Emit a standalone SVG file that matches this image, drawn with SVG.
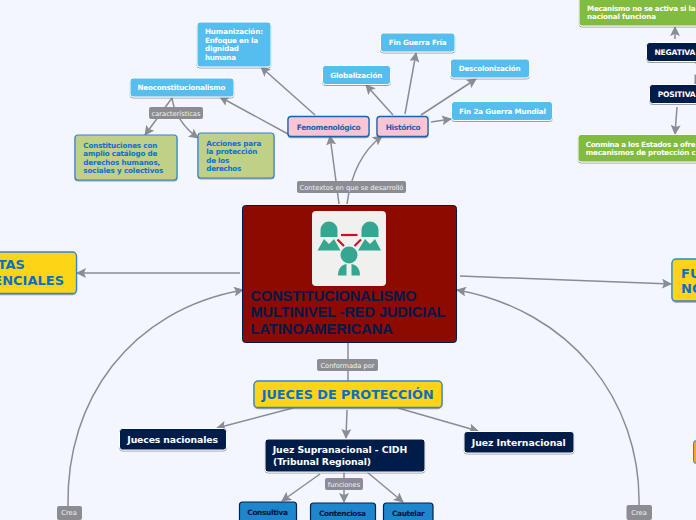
<svg xmlns="http://www.w3.org/2000/svg" width="696" height="520" viewBox="0 0 696 520">
<defs>
<filter id="sh" x="-10%" y="-10%" width="120%" height="130%"><feDropShadow dx="0" dy="1" stdDeviation="0.6" flood-color="#666" flood-opacity="0.6"/></filter>
<marker id="ah" viewBox="0 0 10 10" refX="9" refY="5" markerWidth="10" markerHeight="10" markerUnits="userSpaceOnUse" orient="auto"><path d="M0 0L10 5L0 10L2 5Z" fill="#8a8c94"/></marker>
</defs>
<style>
text{font-family:"DejaVu Sans",Verdana,sans-serif;font-weight:700}
.c path{fill:none;stroke:#8a8c94;stroke-width:1.5;marker-end:url(#ah)}
.c path.n{marker-end:none}
.blue rect{fill:#57bdef;stroke:#fff;stroke-width:1;filter:url(#sh)}
.blue text{fill:#fff;font-size:7.2px}
.pink rect{fill:#fcc5d3;stroke:#1565ae;stroke-width:1.3;filter:url(#sh)}
.pink text{fill:#1a5db0;font-size:7.4px}
.olive rect{fill:#c0d086;stroke:#2f86cf;stroke-width:1.2;filter:url(#sh)}
.olive text{fill:#0a6fd6;font-size:7.2px}
.navy rect{fill:#001a4a;stroke:#fff;stroke-width:1;filter:url(#sh)}
.navy text{fill:#fff;font-size:9.3px}
.navy text.s{font-size:7.6px}
.green rect{fill:#81bb41;stroke:#fff;stroke-width:1;filter:url(#sh)}
.green text{fill:#fff;font-size:7.2px}
.yellow rect{fill:#fdd519;stroke:#2f86cf;stroke-width:1.3;filter:url(#sh)}
.yellow text{fill:#0a6fc4;font-size:13px}
.func rect{fill:#1e86cc;stroke:#00204f;stroke-width:1.2}
.func text{fill:#00143a;font-size:7.4px}
.lab rect{fill:#8c8d92}
.lab text{fill:#f2f2f2;font-size:6.7px;font-weight:400;text-anchor:middle}
.title{fill:#001a4a;font-family:"Liberation Sans",Arial,sans-serif;font-size:14.6px}
</style>
<rect width="696" height="520" fill="#f3f6ff"/>
<g class="c" id="connectors">
<path d="M315 115L261 67"/>
<path d="M288 134L220 97"/>
<path d="M172 98L145 135"/>
<path d="M172 98C174 113 184 128 198 138"/>
<path d="M339 204L330 136"/>
<path d="M347 204C351 174 362 151 382 136"/>
<path d="M393 115L366 85"/>
<path d="M405 114L416 53"/>
<path d="M421 115L476 79"/>
<path d="M431 122L451 119"/>
<path d="M240 273L77 273"/>
<path d="M460 276L671 284"/>
<path class="n" d="M348 343L348 381"/>
<path d="M293 408L217 428"/>
<path d="M347 410L346 438"/>
<path d="M398 408L478 431"/>
<path d="M320 474L282 501"/>
<path d="M344 471L344 502"/>
<path d="M367 472L403 502"/>
<path d="M68 506C66 400 130 310 243 290"/>
<path d="M639 505C641 400 570 310 457 290"/>
<path d="M675 39L675 27"/>
<path d="M677 107L675 134"/>
<path class="n" d="M696 62L697 66"/>
<path d="M699 76L695 84"/>
</g>
<g id="n-human" class="blue"><rect x="197" y="22" width="74" height="45" rx="3"/><text x="205" y="34" textLength="58">Humanización:</text><text x="205" y="43" textLength="53">Enfoque en la</text><text x="205" y="51" textLength="34">dignidad</text><text x="205" y="60" textLength="31">humana</text></g>
<g id="n-neo" class="blue"><rect x="130" y="78" width="104" height="19" rx="3"/><text x="137.500" y="90" textLength="88">Neoconstitucionalismo</text></g>
<g id="n-constituciones" class="olive"><rect x="75" y="135" width="102" height="45" rx="3"/><text x="83.300" y="148" textLength="74">Constituciones con</text><text x="83.300" y="156" textLength="74">amplio catálogo de</text><text x="83.300" y="165" textLength="77">derechos humanos,</text><text x="83.300" y="173" textLength="80">sociales y colectivos</text></g>
<g id="n-acciones" class="olive"><rect x="198" y="133" width="76" height="45" rx="3"/><text x="206.300" y="146" textLength="55">Acciones para</text><text x="206.300" y="154" textLength="51">la protección</text><text x="206.300" y="163" textLength="23">de los</text><text x="206.300" y="171" textLength="35">derechos</text></g>
<g id="l-car" class="lab"><rect x="149" y="107" width="54" height="12" rx="2"/><text x="176" y="116">características</text></g>
<g id="n-feno" class="pink"><rect x="288" y="116.500" width="81" height="20" rx="3"/><text x="296.700" y="129.500" textLength="64">Fenomenológico</text></g>
<g id="n-hist" class="pink"><rect x="377" y="116.500" width="51" height="20" rx="3"/><text x="385.700" y="129.500" textLength="35">Histórico</text></g>
<g id="n-guerra" class="blue"><rect x="380.500" y="33" width="74.500" height="19" rx="3"/><text x="388.700" y="45" textLength="58">Fin Guerra Fría</text></g>
<g id="n-glob" class="blue"><rect x="322.500" y="65.500" width="68" height="19" rx="3"/><text x="330.300" y="78" textLength="52">Globalización</text></g>
<g id="n-desc" class="blue"><rect x="450.500" y="59" width="79" height="19" rx="3"/><text x="458.700" y="71" textLength="62">Descolonización</text></g>
<g id="n-fin2" class="blue"><rect x="451.500" y="101.500" width="101" height="19" rx="3"/><text x="459" y="114" textLength="87">Fin 2a Guerra Mundial</text></g>
<g id="l-ctx" class="lab"><rect x="297" y="181" width="109" height="12" rx="2"/><text x="351.500" y="190">Contextos en que se desarrolló</text></g>
<g id="n-center">
<rect x="242.500" y="205.500" width="214" height="137" rx="3" fill="#8c0a00" stroke="#001a4a" stroke-width="1"/>
<rect x="312" y="211" width="74" height="75" rx="4" fill="#f0f1ee"/>
<g fill="#35a68f">
<path d="M320.500 237V230a8.500 8.500 0 0 1 17 0V237Z"/><path d="M317.500 250.500L324 239L329 244L334 239L340.500 250.500Z"/>
<path d="M361.500 237V230a8.500 8.500 0 0 1 17 0V237Z"/><path d="M358 250.500L365 239L370 244L375 239L381 250.500Z"/>
<circle cx="349" cy="255" r="8.500"/><path d="M338 275.500C338 269 341 265 346.500 264L346.500 275.500Z"/><path d="M360 275.500C360 269 357 265 351.500 264L351.500 275.500Z"/>
</g>
<g stroke="#c8102e" stroke-width="2.200" fill="none"><path d="M341 235L357.500 235"/><path d="M337.500 239.500L344 246"/><path d="M361 239.500L354.500 246"/></g>
<text class="title" x="250.500" y="301" textLength="166">CONSTITUCIONALISMO</text><text class="title" x="250.500" y="317" textLength="195">MULTINIVEL -RED JUDICIAL</text><text class="title" x="250.500" y="334">LATINOAMERICANA</text>
</g>
<g id="n-left" class="yellow"><rect x="-20" y="252" width="96.500" height="41.500" rx="4"/><text x="25" y="269" text-anchor="end">TAS</text><text x="64" y="284.500" text-anchor="end">ENCIALES</text></g>
<g id="n-right" class="yellow"><rect x="672" y="259" width="50" height="42" rx="4"/><text x="681" y="277.500">FU</text><text x="681" y="292.500">NO</text></g>
<g id="l-conf" class="lab"><rect x="317" y="359" width="61" height="12" rx="2"/><text x="347.500" y="368">Conformada por</text></g>
<g id="n-jueces" class="yellow"><rect x="254" y="381" width="188" height="26.500" rx="4"/><text x="261.700" y="399" textLength="172" style="font-size:12.800px">JUECES DE PROTECCIÓN</text></g>
<g id="n-nac" class="navy"><rect x="119.500" y="428.500" width="107" height="21.500" rx="3"/><text x="127.300" y="443" textLength="90.700">Jueces nacionales</text></g>
<g id="n-sup" class="navy"><rect x="265" y="439" width="160" height="33" rx="3"/><text x="272.700" y="453" textLength="134.600">Juez Supranacional - CIDH</text><text x="273" y="464.500" textLength="98">(Tribunal Regional)</text></g>
<g id="n-int" class="navy"><rect x="464" y="431.500" width="110" height="21.500" rx="3"/><text x="471.700" y="446" textLength="94">Juez Internacional</text></g>
<g id="l-fun" class="lab"><rect x="325" y="478" width="38" height="12" rx="2"/><text x="344" y="487">funciones</text></g>
<g id="n-cons" class="func"><rect x="239.500" y="502" width="57" height="30" rx="3"/><text x="247.300" y="515" textLength="40.700">Consultiva</text></g>
<g id="n-cont" class="func"><rect x="310.500" y="503" width="65" height="30" rx="3"/><text x="319" y="516" textLength="47">Contenciosa</text></g>
<g id="n-caut" class="func"><rect x="383.500" y="503" width="49.500" height="30" rx="3"/><text x="392" y="516" textLength="32.700">Cautelar</text></g>
<g id="l-crea1" class="lab"><rect x="57" y="506" width="25" height="14" rx="2"/><text x="69" y="515">Crea</text></g>
<g id="l-crea2" class="lab"><rect x="626.500" y="505" width="25.500" height="15" rx="2"/><text x="639" y="515">Crea</text></g>
<g id="n-g1" class="green"><rect x="579" y="-10" width="140" height="36" rx="3"/><text x="587" y="11" textLength="108.500">Mecanismo no se activa si la</text><text x="587" y="19" textLength="69">nacional funciona</text></g>
<g id="n-neg" class="navy"><rect x="646.500" y="42.500" width="70" height="19" rx="3"/><text class="s" x="654.400" y="55" textLength="41">NEGATIVA</text></g>
<g id="n-pos" class="navy"><rect x="649.500" y="84.500" width="70" height="19" rx="3"/><text class="s" x="657.700" y="97" textLength="38">POSITIVA</text></g>
<g id="n-g2" class="green"><rect x="578" y="134.500" width="140" height="27.500" rx="3"/><text x="585.700" y="147" textLength="110">Conmina a los Estados a ofre</text><text x="585.700" y="155" textLength="110">mecanismos de protección c</text></g>
<g id="n-orange"><rect x="693.500" y="440.500" width="20" height="23" rx="3" fill="#f5a623" stroke="#2f86cf" stroke-width="1"/></g>
</svg>
